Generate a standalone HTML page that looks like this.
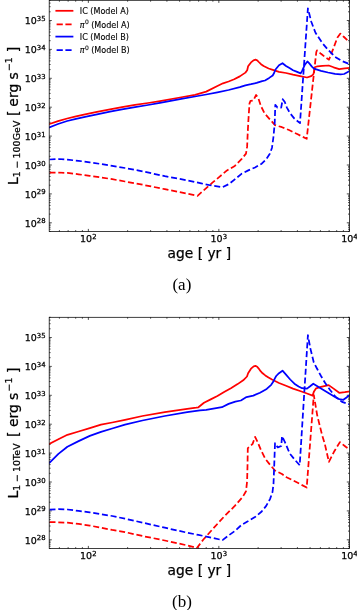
<!DOCTYPE html>
<html lang="en"><head><meta charset="utf-8"><title>Figure</title>
<style>html,body{margin:0;padding:0;background:#fff}body{width:357px;height:610px;overflow:hidden}svg{display:block;will-change:transform;opacity:0.999}</style>
</head><body>
<svg width="357" height="610" viewBox="0 0 357 610" font-family="'DejaVu Sans', 'Liberation Sans', sans-serif" fill="#000" stroke="#000" stroke-width="0.25">
<rect width="357" height="610" fill="#fff" stroke="none"/>
<clipPath id="c1"><rect x="49.2" y="0.3" width="300.2" height="231.2"/></clipPath>
<path d="M49.2 231.50h1.4M349.4 231.50h-1.4M49.2 229.21h1.4M349.4 229.21h-1.4M49.2 227.28h1.4M349.4 227.28h-1.4M49.2 225.60h1.4M349.4 225.60h-1.4M49.2 224.12h1.4M349.4 224.12h-1.4M49.2 222.80h2.6M349.4 222.80h-2.6M49.2 214.10h1.4M349.4 214.10h-1.4M49.2 209.01h1.4M349.4 209.01h-1.4M49.2 205.40h1.4M349.4 205.40h-1.4M49.2 202.60h1.4M349.4 202.60h-1.4M49.2 200.31h1.4M349.4 200.31h-1.4M49.2 198.38h1.4M349.4 198.38h-1.4M49.2 196.70h1.4M349.4 196.70h-1.4M49.2 195.22h1.4M349.4 195.22h-1.4M49.2 193.90h2.6M349.4 193.90h-2.6M49.2 185.20h1.4M349.4 185.20h-1.4M49.2 180.11h1.4M349.4 180.11h-1.4M49.2 176.50h1.4M349.4 176.50h-1.4M49.2 173.70h1.4M349.4 173.70h-1.4M49.2 171.41h1.4M349.4 171.41h-1.4M49.2 169.48h1.4M349.4 169.48h-1.4M49.2 167.80h1.4M349.4 167.80h-1.4M49.2 166.32h1.4M349.4 166.32h-1.4M49.2 165.00h2.6M349.4 165.00h-2.6M49.2 156.30h1.4M349.4 156.30h-1.4M49.2 151.21h1.4M349.4 151.21h-1.4M49.2 147.60h1.4M349.4 147.60h-1.4M49.2 144.80h1.4M349.4 144.80h-1.4M49.2 142.51h1.4M349.4 142.51h-1.4M49.2 140.58h1.4M349.4 140.58h-1.4M49.2 138.90h1.4M349.4 138.90h-1.4M49.2 137.42h1.4M349.4 137.42h-1.4M49.2 136.10h2.6M349.4 136.10h-2.6M49.2 127.40h1.4M349.4 127.40h-1.4M49.2 122.31h1.4M349.4 122.31h-1.4M49.2 118.70h1.4M349.4 118.70h-1.4M49.2 115.90h1.4M349.4 115.90h-1.4M49.2 113.61h1.4M349.4 113.61h-1.4M49.2 111.68h1.4M349.4 111.68h-1.4M49.2 110.00h1.4M349.4 110.00h-1.4M49.2 108.52h1.4M349.4 108.52h-1.4M49.2 107.20h2.6M349.4 107.20h-2.6M49.2 98.50h1.4M349.4 98.50h-1.4M49.2 93.41h1.4M349.4 93.41h-1.4M49.2 89.80h1.4M349.4 89.80h-1.4M49.2 87.00h1.4M349.4 87.00h-1.4M49.2 84.71h1.4M349.4 84.71h-1.4M49.2 82.78h1.4M349.4 82.78h-1.4M49.2 81.10h1.4M349.4 81.10h-1.4M49.2 79.62h1.4M349.4 79.62h-1.4M49.2 78.30h2.6M349.4 78.30h-2.6M49.2 69.60h1.4M349.4 69.60h-1.4M49.2 64.51h1.4M349.4 64.51h-1.4M49.2 60.90h1.4M349.4 60.90h-1.4M49.2 58.10h1.4M349.4 58.10h-1.4M49.2 55.81h1.4M349.4 55.81h-1.4M49.2 53.88h1.4M349.4 53.88h-1.4M49.2 52.20h1.4M349.4 52.20h-1.4M49.2 50.72h1.4M349.4 50.72h-1.4M49.2 49.40h2.6M349.4 49.40h-2.6M49.2 40.70h1.4M349.4 40.70h-1.4M49.2 35.61h1.4M349.4 35.61h-1.4M49.2 32.00h1.4M349.4 32.00h-1.4M49.2 29.20h1.4M349.4 29.20h-1.4M49.2 26.91h1.4M349.4 26.91h-1.4M49.2 24.98h1.4M349.4 24.98h-1.4M49.2 23.30h1.4M349.4 23.30h-1.4M49.2 21.82h1.4M349.4 21.82h-1.4M49.2 20.50h2.6M349.4 20.50h-2.6M49.2 11.80h1.4M349.4 11.80h-1.4M49.2 6.71h1.4M349.4 6.71h-1.4M49.2 3.10h1.4M349.4 3.10h-1.4M49.2 0.30h1.4M349.4 0.30h-1.4M59.40 231.5v-1.4M59.40 0.3v1.4M68.14 231.5v-1.4M68.14 0.3v1.4M75.70 231.5v-1.4M75.70 0.3v1.4M82.38 231.5v-1.4M82.38 0.3v1.4M88.35 231.5v-2.6M88.35 0.3v2.6M127.63 231.5v-1.4M127.63 0.3v1.4M150.61 231.5v-1.4M150.61 0.3v1.4M166.92 231.5v-1.4M166.92 0.3v1.4M179.57 231.5v-1.4M179.57 0.3v1.4M189.90 231.5v-1.4M189.90 0.3v1.4M198.64 231.5v-1.4M198.64 0.3v1.4M206.20 231.5v-1.4M206.20 0.3v1.4M212.88 231.5v-1.4M212.88 0.3v1.4M218.85 231.5v-2.6M218.85 0.3v2.6M258.13 231.5v-1.4M258.13 0.3v1.4M281.11 231.5v-1.4M281.11 0.3v1.4M297.42 231.5v-1.4M297.42 0.3v1.4M310.07 231.5v-1.4M310.07 0.3v1.4M320.40 231.5v-1.4M320.40 0.3v1.4M329.14 231.5v-1.4M329.14 0.3v1.4M336.70 231.5v-1.4M336.70 0.3v1.4M343.38 231.5v-1.4M343.38 0.3v1.4M349.35 231.5v-2.6M349.35 0.3v2.6" stroke="#000" stroke-width="0.7" fill="none"/>
<path d="M49.5 124.0 L58.0 121.2 L67.2 118.5 L76.0 116.3 L86.2 114.1 L97.0 111.8 L110.0 109.3 L122.0 107.1 L135.0 104.9 L148.0 103.0 L160.0 101.1 L180.0 97.5 L195.0 94.8 L206.2 91.6 L217.4 86.0 L223.0 83.3 L228.6 81.5 L234.2 79.3 L239.8 76.4 L245.4 72.6 L247.2 70.3 L248.1 66.3 L251.0 62.4 L253.5 60.3 L255.5 59.7 L257.2 60.3 L258.8 62.0 L261.0 64.2 L263.6 66.0 L268.6 68.5 L272.0 69.6 L279.0 71.8 L286.0 73.0 L293.0 74.7 L300.0 76.1 L307.0 77.5 L311.2 76.1 L313.3 74.4 L314.2 70.9 L314.7 67.3 L317.5 66.3 L322.4 65.9 L328.7 65.5 L333.6 67.3 L339.2 69.1 L344.8 68.4 L349.4 68.0" fill="none" stroke="#f00" stroke-width="1.75" stroke-linejoin="round" stroke-linecap="square" clip-path="url(#c1)"/>
<path d="M49.5 172.5 L58.4 172.5 L67.4 172.9 L78.6 174.3 L89.8 175.9 L101.0 177.4 L112.2 179.2 L125.0 181.5 L142.4 184.7 L164.8 189.2 L187.2 193.7 L197.5 195.9 L203.4 190.6 L212.4 182.7 L219.1 177.1 L227.0 170.4 L234.8 165.9 L241.5 159.2 L246.0 153.6 L247.1 146.9 L247.8 131.2 L248.4 120.2 L249.5 103.4 L250.5 100.9 L253.3 100.6 L256.1 95.0 L258.2 97.8 L261.0 106.2 L264.5 113.2 L269.4 118.8 L275.0 125.1 L282.0 127.2 L289.0 130.0 L297.7 134.3 L306.7 138.8 L316.3 52.0 L317.0 50.4 L321.0 53.8 L325.0 57.0 L329.0 59.7 L332.6 50.4 L337.3 37.8 L340.4 33.6 L344.0 37.0 L349.4 42.3" fill="none" stroke="#f00" stroke-width="1.75" stroke-linejoin="round" stroke-dasharray="6.0 2.8" clip-path="url(#c1)"/>
<path d="M49.5 127.3 L58.0 124.0 L67.2 121.0 L76.0 118.8 L86.2 116.7 L97.0 114.3 L110.0 111.7 L122.0 109.4 L135.0 107.1 L148.0 105.0 L160.0 102.9 L180.0 99.2 L195.0 96.5 L206.2 94.5 L217.4 92.3 L228.6 90.0 L239.8 87.1 L245.4 85.3 L251.0 84.2 L256.6 82.9 L262.2 81.1 L265.0 80.5 L269.2 77.9 L272.7 75.5 L274.1 73.0 L275.5 69.5 L279.0 65.3 L282.5 63.2 L286.0 66.0 L289.5 68.1 L293.0 70.2 L296.5 71.6 L300.7 73.4 L302.1 70.9 L304.9 64.6 L307.4 61.5 L309.1 63.1 L311.9 66.6 L314.0 68.7 L321.0 70.8 L328.0 72.5 L335.0 73.9 L340.6 74.3 L344.1 74.0 L346.9 72.5 L349.4 71.1" fill="none" stroke="#00f" stroke-width="1.75" stroke-linejoin="round" stroke-linecap="square" clip-path="url(#c1)"/>
<path d="M49.5 159.5 L58.4 159.0 L67.4 159.7 L78.6 160.8 L89.8 162.4 L101.0 164.0 L112.2 165.8 L125.0 168.0 L142.4 171.3 L164.8 176.2 L187.2 180.3 L201.2 183.4 L212.4 185.7 L222.5 187.2 L229.2 183.9 L234.8 179.4 L241.5 173.8 L248.3 170.4 L255.0 167.5 L261.7 163.7 L266.2 159.2 L270.0 153.6 L272.0 147.7 L273.5 136.5 L274.7 123.0 L275.3 104.8 L277.5 107.6 L281.2 107.6 L282.7 99.2 L284.8 102.0 L286.9 107.6 L289.9 113.0 L294.4 118.6 L300.0 123.1 L307.9 8.4 L311.3 21.8 L315.5 32.8 L322.2 42.9 L328.0 49.8 L335.0 56.8 L342.0 61.0 L349.4 64.1" fill="none" stroke="#00f" stroke-width="1.75" stroke-linejoin="round" stroke-dasharray="6.0 2.8" clip-path="url(#c1)"/>
<rect x="49.2" y="0.3" width="300.2" height="231.2" fill="none" stroke="#000" stroke-width="0.75"/>
<text x="45.6" y="226.6" font-size="9.5" text-anchor="end">10<tspan dy="-3.3" font-size="6.9">28</tspan></text>
<text x="45.6" y="197.7" font-size="9.5" text-anchor="end">10<tspan dy="-3.3" font-size="6.9">29</tspan></text>
<text x="45.6" y="168.8" font-size="9.5" text-anchor="end">10<tspan dy="-3.3" font-size="6.9">30</tspan></text>
<text x="45.6" y="139.9" font-size="9.5" text-anchor="end">10<tspan dy="-3.3" font-size="6.9">31</tspan></text>
<text x="45.6" y="111.0" font-size="9.5" text-anchor="end">10<tspan dy="-3.3" font-size="6.9">32</tspan></text>
<text x="45.6" y="82.1" font-size="9.5" text-anchor="end">10<tspan dy="-3.3" font-size="6.9">33</tspan></text>
<text x="45.6" y="53.2" font-size="9.5" text-anchor="end">10<tspan dy="-3.3" font-size="6.9">34</tspan></text>
<text x="45.6" y="24.3" font-size="9.5" text-anchor="end">10<tspan dy="-3.3" font-size="6.9">35</tspan></text>
<text x="88.3" y="241.9" font-size="9.5" text-anchor="middle">10<tspan dy="-3.3" font-size="6.9">2</tspan></text>
<text x="218.8" y="241.9" font-size="9.5" text-anchor="middle">10<tspan dy="-3.3" font-size="6.9">3</tspan></text>
<text x="349.4" y="241.9" font-size="9.5" text-anchor="middle">10<tspan dy="-3.3" font-size="6.9">4</tspan></text>
<text x="199.3" y="257.9" font-size="13.8" text-anchor="middle">age [ yr ]</text>
<text transform="translate(17.8 185.1) rotate(-90)" font-size="14"><tspan x="0" y="0">L</tspan><tspan x="7.8" y="2.1" font-size="9.3">1</tspan><tspan x="16.7" y="2.1" font-size="9.3">−</tspan><tspan x="26.6" y="2.1" font-size="9.3" letter-spacing="0.15">100GeV</tspan><tspan x="69.1" y="0">[</tspan><tspan x="78.4" y="0">erg</tspan><tspan x="105.6" y="0">s</tspan><tspan x="114.1" y="-5.7" font-size="9.3">−1</tspan><tspan x="132.9" y="0">]</tspan></text>
<text x="181.9" y="289.7" font-size="17" text-anchor="middle" stroke="none" font-family="'Liberation Serif', serif">(a)</text>
<path d="M56.3 10.8H72.5" stroke="#f00" stroke-width="1.75" stroke-linecap="square" fill="none"/>
<text x="79.8" y="14.0" font-size="8.05" stroke-width="0.12">IC (Model A)</text>
<path d="M56.6 24.3H73.4" stroke="#f00" stroke-width="1.75" stroke-dasharray="6.2 2.6" fill="none"/>
<text x="79.8" y="27.5" font-size="8.05" stroke-width="0.12"><tspan font-style="italic">π</tspan><tspan dx="0.4" dy="-3.7" font-size="6">0</tspan><tspan dx="-0.3" dy="3.7"> (Model A)</tspan></text>
<path d="M56.3 36.6H72.5" stroke="#00f" stroke-width="1.75" stroke-linecap="square" fill="none"/>
<text x="79.8" y="39.8" font-size="8.05" stroke-width="0.12">IC (Model B)</text>
<path d="M56.6 50.0H73.4" stroke="#00f" stroke-width="1.75" stroke-dasharray="6.2 2.6" fill="none"/>
<text x="79.8" y="53.2" font-size="8.05" stroke-width="0.12"><tspan font-style="italic">π</tspan><tspan dx="0.4" dy="-3.7" font-size="6">0</tspan><tspan dx="-0.3" dy="3.7"> (Model B)</tspan></text>
<clipPath id="c2"><rect x="49.2" y="317.3" width="300.2" height="231.2"/></clipPath>
<path d="M49.2 548.50h1.4M349.4 548.50h-1.4M49.2 546.21h1.4M349.4 546.21h-1.4M49.2 544.28h1.4M349.4 544.28h-1.4M49.2 542.60h1.4M349.4 542.60h-1.4M49.2 541.12h1.4M349.4 541.12h-1.4M49.2 539.80h2.6M349.4 539.80h-2.6M49.2 531.10h1.4M349.4 531.10h-1.4M49.2 526.01h1.4M349.4 526.01h-1.4M49.2 522.40h1.4M349.4 522.40h-1.4M49.2 519.60h1.4M349.4 519.60h-1.4M49.2 517.31h1.4M349.4 517.31h-1.4M49.2 515.38h1.4M349.4 515.38h-1.4M49.2 513.70h1.4M349.4 513.70h-1.4M49.2 512.22h1.4M349.4 512.22h-1.4M49.2 510.90h2.6M349.4 510.90h-2.6M49.2 502.20h1.4M349.4 502.20h-1.4M49.2 497.11h1.4M349.4 497.11h-1.4M49.2 493.50h1.4M349.4 493.50h-1.4M49.2 490.70h1.4M349.4 490.70h-1.4M49.2 488.41h1.4M349.4 488.41h-1.4M49.2 486.48h1.4M349.4 486.48h-1.4M49.2 484.80h1.4M349.4 484.80h-1.4M49.2 483.32h1.4M349.4 483.32h-1.4M49.2 482.00h2.6M349.4 482.00h-2.6M49.2 473.30h1.4M349.4 473.30h-1.4M49.2 468.21h1.4M349.4 468.21h-1.4M49.2 464.60h1.4M349.4 464.60h-1.4M49.2 461.80h1.4M349.4 461.80h-1.4M49.2 459.51h1.4M349.4 459.51h-1.4M49.2 457.58h1.4M349.4 457.58h-1.4M49.2 455.90h1.4M349.4 455.90h-1.4M49.2 454.42h1.4M349.4 454.42h-1.4M49.2 453.10h2.6M349.4 453.10h-2.6M49.2 444.40h1.4M349.4 444.40h-1.4M49.2 439.31h1.4M349.4 439.31h-1.4M49.2 435.70h1.4M349.4 435.70h-1.4M49.2 432.90h1.4M349.4 432.90h-1.4M49.2 430.61h1.4M349.4 430.61h-1.4M49.2 428.68h1.4M349.4 428.68h-1.4M49.2 427.00h1.4M349.4 427.00h-1.4M49.2 425.52h1.4M349.4 425.52h-1.4M49.2 424.20h2.6M349.4 424.20h-2.6M49.2 415.50h1.4M349.4 415.50h-1.4M49.2 410.41h1.4M349.4 410.41h-1.4M49.2 406.80h1.4M349.4 406.80h-1.4M49.2 404.00h1.4M349.4 404.00h-1.4M49.2 401.71h1.4M349.4 401.71h-1.4M49.2 399.78h1.4M349.4 399.78h-1.4M49.2 398.10h1.4M349.4 398.10h-1.4M49.2 396.62h1.4M349.4 396.62h-1.4M49.2 395.30h2.6M349.4 395.30h-2.6M49.2 386.60h1.4M349.4 386.60h-1.4M49.2 381.51h1.4M349.4 381.51h-1.4M49.2 377.90h1.4M349.4 377.90h-1.4M49.2 375.10h1.4M349.4 375.10h-1.4M49.2 372.81h1.4M349.4 372.81h-1.4M49.2 370.88h1.4M349.4 370.88h-1.4M49.2 369.20h1.4M349.4 369.20h-1.4M49.2 367.72h1.4M349.4 367.72h-1.4M49.2 366.40h2.6M349.4 366.40h-2.6M49.2 357.70h1.4M349.4 357.70h-1.4M49.2 352.61h1.4M349.4 352.61h-1.4M49.2 349.00h1.4M349.4 349.00h-1.4M49.2 346.20h1.4M349.4 346.20h-1.4M49.2 343.91h1.4M349.4 343.91h-1.4M49.2 341.98h1.4M349.4 341.98h-1.4M49.2 340.30h1.4M349.4 340.30h-1.4M49.2 338.82h1.4M349.4 338.82h-1.4M49.2 337.50h2.6M349.4 337.50h-2.6M49.2 328.80h1.4M349.4 328.80h-1.4M49.2 323.71h1.4M349.4 323.71h-1.4M49.2 320.10h1.4M349.4 320.10h-1.4M49.2 317.30h1.4M349.4 317.30h-1.4M59.40 548.5v-1.4M59.40 317.3v1.4M68.14 548.5v-1.4M68.14 317.3v1.4M75.70 548.5v-1.4M75.70 317.3v1.4M82.38 548.5v-1.4M82.38 317.3v1.4M88.35 548.5v-2.6M88.35 317.3v2.6M127.63 548.5v-1.4M127.63 317.3v1.4M150.61 548.5v-1.4M150.61 317.3v1.4M166.92 548.5v-1.4M166.92 317.3v1.4M179.57 548.5v-1.4M179.57 317.3v1.4M189.90 548.5v-1.4M189.90 317.3v1.4M198.64 548.5v-1.4M198.64 317.3v1.4M206.20 548.5v-1.4M206.20 317.3v1.4M212.88 548.5v-1.4M212.88 317.3v1.4M218.85 548.5v-2.6M218.85 317.3v2.6M258.13 548.5v-1.4M258.13 317.3v1.4M281.11 548.5v-1.4M281.11 317.3v1.4M297.42 548.5v-1.4M297.42 317.3v1.4M310.07 548.5v-1.4M310.07 317.3v1.4M320.40 548.5v-1.4M320.40 317.3v1.4M329.14 548.5v-1.4M329.14 317.3v1.4M336.70 548.5v-1.4M336.70 317.3v1.4M343.38 548.5v-1.4M343.38 317.3v1.4M349.35 548.5v-2.6M349.35 317.3v2.6" stroke="#000" stroke-width="0.7" fill="none"/>
<path d="M49.5 443.8 L58.4 439.3 L67.4 434.8 L78.6 431.5 L89.8 428.1 L101.0 424.7 L112.2 422.5 L125.0 419.8 L142.4 416.0 L164.8 412.2 L187.2 408.9 L196.2 407.7 L198.4 407.3 L204.0 402.7 L210.7 399.4 L217.4 396.0 L224.1 392.0 L230.9 388.2 L237.6 384.1 L243.2 380.3 L247.0 376.5 L248.1 373.2 L251.0 368.7 L253.7 366.4 L255.5 365.9 L257.2 366.7 L258.7 368.6 L260.6 371.2 L262.6 373.3 L265.3 375.4 L268.5 377.5 L272.0 379.5 L279.0 383.0 L286.0 385.8 L293.0 388.6 L300.0 391.0 L307.0 393.5 L312.6 395.6 L314.0 391.4 L316.1 388.3 L321.0 386.9 L328.7 385.1 L333.6 388.6 L339.2 392.8 L344.8 392.1 L349.4 391.4" fill="none" stroke="#f00" stroke-width="1.75" stroke-linejoin="round" stroke-linecap="square" clip-path="url(#c2)"/>
<path d="M49.5 522.1 L58.4 522.3 L67.4 522.7 L78.6 523.9 L89.8 525.6 L101.0 527.7 L112.2 529.9 L125.0 532.1 L142.4 536.0 L164.8 540.5 L187.2 545.4 L193.9 547.2 L196.7 548.2 L203.4 539.5 L212.4 529.4 L223.6 517.1 L234.8 505.9 L242.7 496.9 L246.0 491.3 L247.1 481.2 L247.5 466.0 L247.8 448.1 L249.8 446.7 L252.6 443.9 L255.1 436.9 L257.5 441.8 L261.0 450.2 L265.2 458.6 L270.1 464.9 L275.0 470.5 L282.0 474.0 L286.5 477.2 L297.7 482.8 L306.7 487.6 L313.8 395.0 L317.2 415.3 L322.2 435.4 L324.7 443.4 L328.9 461.9 L334.0 451.8 L339.9 442.1 L345.7 446.8 L349.4 449.3" fill="none" stroke="#f00" stroke-width="1.75" stroke-linejoin="round" stroke-dasharray="6.0 2.8" clip-path="url(#c2)"/>
<path d="M49.5 462.8 L58.4 453.9 L67.4 446.7 L78.6 441.1 L89.8 435.9 L101.0 431.9 L112.2 428.5 L125.0 424.7 L142.4 420.5 L164.8 416.0 L187.2 412.2 L200.0 410.4 L206.2 409.9 L221.9 407.2 L228.6 403.9 L235.3 401.6 L240.9 400.5 L246.5 397.1 L253.3 395.6 L260.0 392.7 L266.7 388.9 L271.2 384.8 L273.4 381.5 L275.0 378.1 L276.2 376.0 L279.0 373.2 L282.5 370.7 L286.0 374.6 L290.2 379.5 L294.4 383.7 L298.6 386.5 L302.1 388.2 L307.0 388.6 L309.8 386.5 L313.3 383.7 L321.0 388.6 L328.0 392.8 L335.0 397.0 L339.2 399.1 L343.4 399.8 L346.2 397.7 L349.4 395.2" fill="none" stroke="#00f" stroke-width="1.75" stroke-linejoin="round" stroke-linecap="square" clip-path="url(#c2)"/>
<path d="M49.5 509.7 L58.4 509.1 L67.4 509.5 L78.6 510.9 L89.8 512.4 L101.0 514.2 L112.2 516.0 L125.0 518.7 L142.4 522.6 L164.8 527.7 L187.2 532.7 L198.4 534.9 L212.4 537.9 L222.5 540.1 L229.2 535.0 L234.8 531.0 L241.5 524.9 L248.3 521.1 L255.0 517.1 L261.7 511.5 L266.2 505.9 L270.0 499.1 L272.5 492.0 L273.5 484.0 L274.2 466.0 L275.0 443.2 L277.8 447.4 L281.3 446.0 L282.0 436.2 L284.8 441.8 L288.3 450.2 L289.9 453.7 L294.4 459.3 L299.7 465.3 L307.9 335.2 L310.4 348.6 L313.8 362.5 L317.5 369.5 L321.0 376.0 L325.2 383.0 L330.1 390.0 L335.7 397.0 L342.0 401.9 L349.4 404.5" fill="none" stroke="#00f" stroke-width="1.75" stroke-linejoin="round" stroke-dasharray="6.0 2.8" clip-path="url(#c2)"/>
<rect x="49.2" y="317.3" width="300.2" height="231.2" fill="none" stroke="#000" stroke-width="0.75"/>
<text x="45.6" y="543.6" font-size="9.5" text-anchor="end">10<tspan dy="-3.3" font-size="6.9">28</tspan></text>
<text x="45.6" y="514.7" font-size="9.5" text-anchor="end">10<tspan dy="-3.3" font-size="6.9">29</tspan></text>
<text x="45.6" y="485.8" font-size="9.5" text-anchor="end">10<tspan dy="-3.3" font-size="6.9">30</tspan></text>
<text x="45.6" y="456.9" font-size="9.5" text-anchor="end">10<tspan dy="-3.3" font-size="6.9">31</tspan></text>
<text x="45.6" y="428.0" font-size="9.5" text-anchor="end">10<tspan dy="-3.3" font-size="6.9">32</tspan></text>
<text x="45.6" y="399.1" font-size="9.5" text-anchor="end">10<tspan dy="-3.3" font-size="6.9">33</tspan></text>
<text x="45.6" y="370.2" font-size="9.5" text-anchor="end">10<tspan dy="-3.3" font-size="6.9">34</tspan></text>
<text x="45.6" y="341.3" font-size="9.5" text-anchor="end">10<tspan dy="-3.3" font-size="6.9">35</tspan></text>
<text x="88.3" y="558.9" font-size="9.5" text-anchor="middle">10<tspan dy="-3.3" font-size="6.9">2</tspan></text>
<text x="218.8" y="558.9" font-size="9.5" text-anchor="middle">10<tspan dy="-3.3" font-size="6.9">3</tspan></text>
<text x="349.4" y="558.9" font-size="9.5" text-anchor="middle">10<tspan dy="-3.3" font-size="6.9">4</tspan></text>
<text x="199.3" y="574.9" font-size="13.8" text-anchor="middle">age [ yr ]</text>
<text transform="translate(17.8 498.6) rotate(-90)" font-size="14"><tspan x="0" y="0">L</tspan><tspan x="7.8" y="2.1" font-size="9.3">1</tspan><tspan x="16.7" y="2.1" font-size="9.3">−</tspan><tspan x="26.6" y="2.1" font-size="9.3" letter-spacing="0.15">10TeV</tspan><tspan x="61.7" y="0">[</tspan><tspan x="71.5" y="0">erg</tspan><tspan x="98.7" y="0">s</tspan><tspan x="107.2" y="-5.7" font-size="9.3">−1</tspan><tspan x="125.5" y="0">]</tspan></text>
<text x="181.9" y="606.7" font-size="17" text-anchor="middle" stroke="none" font-family="'Liberation Serif', serif">(b)</text>
</svg>
</body></html>
